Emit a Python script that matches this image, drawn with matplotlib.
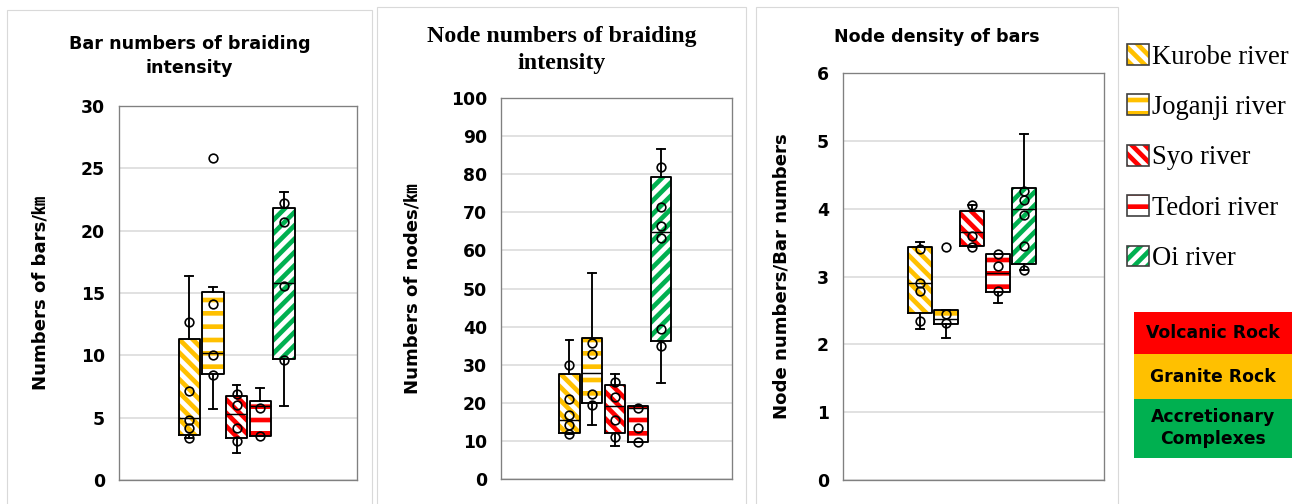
import numpy as np
import matplotlib
matplotlib.use('Agg')
import matplotlib.pyplot as plt
from matplotlib.patches import Patch, Rectangle
from matplotlib.legend_handler import HandlerTuple

# River names, colours and stripe patterns.
rivers = ['Kurobe river', 'Joganji river', 'Syo river', 'Tedori river', 'Oi river']
river_colors = ['#FFC000', '#FFC000', '#FF0000', '#FF0000', '#00B050']
river_hatches = ['\\\\', '-', '\\\\', '-', '//']

# Panel 1: bar numbers per km.
bars_q1 = [3.6, 8.5, 3.4, 3.5, 9.7]
bars_med = [5.0, 10.2, 5.3, 5.9, 15.8]
bars_q3 = [11.3, 15.1, 6.7, 6.35, 21.8]
bars_lo = [3.4, 5.7, 2.2, 3.5, 5.9]
bars_hi = [16.4, 15.45, 7.6, 7.35, 23.1]
bars_pts = [[12.7, 7.1, 4.8, 4.2, 3.4], [25.8, 14.1, 10.0, 8.4],
            [6.9, 6.0, 4.2, 3.15], [5.75, 3.5], [22.2, 20.7, 15.6, 9.6]]

# Panel 2: node numbers per km.
nodes_q1 = [12.0, 20.0, 12.0, 9.6, 36.1]
nodes_med = [15.5, 27.9, 19.2, 18.6, 64.8]
nodes_q3 = [27.6, 37.0, 24.7, 19.2, 79.2]
nodes_lo = [11.8, 14.2, 8.7, 9.6, 25.1]
nodes_hi = [36.5, 54.0, 27.6, 19.2, 86.6]
nodes_pts = [[29.8, 21.1, 16.9, 14.3, 11.8], [35.8, 32.7, 22.3, 19.4],
             [25.5, 21.5, 15.5, 10.95], [18.6, 13.3, 9.7],
             [81.9, 71.5, 66.5, 63.3, 39.3, 34.9]]

# Panel 3: node density of bars.
dens_q1 = [2.46, 2.30, 3.45, 2.77, 3.18]
dens_med = [2.90, 2.38, 3.65, 3.05, 4.00]
dens_q3 = [3.43, 2.51, 3.97, 3.33, 4.31]
dens_lo = [2.23, 2.09, 3.44, 2.61, 3.10]
dens_hi = [3.51, 2.51, 4.06, 3.33, 5.10]
dens_pts = [[3.40, 2.91, 2.79, 2.34], [3.43, 2.45, 2.31], [4.06, 3.60, 3.44],
            [3.33, 3.16, 2.78], [4.26, 4.13, 3.90, 3.45, 3.10]]

# Rock type legend.
rock_names = ['Volcanic Rock', 'Granite Rock', 'Accretionary\nComplexes']
rock_colors = ['#FF0000', '#FFC000', '#00B050']

W, H, DPI = 1306, 504, 80
plt.rcParams['font.family'] = ['DejaVu Sans', 'Noto Sans CJK JP']
plt.rcParams['font.weight'] = 'bold'
plt.rcParams['hatch.linewidth'] = 4.2

fig = plt.figure(figsize=(W / DPI, H / DPI), dpi=DPI)


def fx(px):
    return px / W


def fy(px):
    return 1 - px / H


def draw_panel(rect, q1, med, q3, lo, hi, pts, ymax, ystep, ylabel, label_x):
    """
    Draw one box plot panel in the rectangle given in pixels
    (left, top, right, bottom).
    """
    left, top, right, bottom = rect
    ax = fig.add_axes([fx(left), fy(bottom), fx(right - left), (bottom - top) / H])
    pos = np.arange(1, len(rivers) + 1)

    stats = []
    for i in range(len(rivers)):
        stats.append({'med': med[i], 'q1': q1[i], 'q3': q3[i],
                      'whislo': lo[i], 'whishi': hi[i], 'fliers': []})

    # Striped fill of the boxes.
    bp = ax.bxp(stats, positions=pos, widths=0.9, patch_artist=True,
                showcaps=False, showfliers=False,
                whiskerprops={'linewidth': 0}, medianprops={'linewidth': 0},
                manage_ticks=False)
    for box, c, h in zip(bp['boxes'], river_colors, river_hatches):
        box.set_facecolor('white')
        box.set_edgecolor(c)
        box.set_hatch(h)
        box.set_linewidth(0)
        box.set_zorder(2)

    # Black outlines, whiskers and medians.
    line = {'color': 'black', 'linewidth': 1.7}
    ax.bxp(stats, positions=pos, widths=0.9, showfliers=False,
           boxprops=line, whiskerprops=line, capprops=line,
           medianprops={'color': 'black', 'linewidth': 1.3},
           capwidths=0.32, manage_ticks=False, zorder=3)

    # Data points.
    for p, vals in zip(pos, pts):
        ax.plot(np.full(len(vals), p), vals, 'o', mfc='none', mec='black',
                ms=7.8, mew=1.5, zorder=4)

    ax.set_xlim(-1.97, 8.09)
    ax.set_ylim(0, ymax)
    ax.set_yticks(np.arange(0, ymax + ystep / 2, ystep))
    ax.set_xticks([])
    ax.tick_params(axis='y', length=0, pad=12.6, labelsize=15.5)
    ax.yaxis.grid(True, color='#d9d9d9', linewidth=1.4)
    ax.set_axisbelow(True)
    for s in ax.spines.values():
        s.set_color('#808080')
        s.set_linewidth(1.2)
    ax.set_ylabel(ylabel, fontsize=16.3, fontweight='bold')
    ax.yaxis.set_label_coords(label_x, 0.5)
    return ax


# Outer frames of the three panels.
for x0, x1, y0 in [(7, 372, 10), (377, 746, 7), (756, 1118, 7)]:
    fig.patches.append(Rectangle((fx(x0), -0.1), fx(x1 - x0), fy(y0) + 0.1,
                                 transform=fig.transFigure, fill=False,
                                 edgecolor='#d9d9d9', linewidth=1.0))

draw_panel((119, 106, 357, 480), bars_q1, bars_med, bars_q3, bars_lo, bars_hi,
           bars_pts, 30, 5, 'Numbers of bars/㎞', -0.29)
draw_panel((501, 98, 732, 479), nodes_q1, nodes_med, nodes_q3, nodes_lo, nodes_hi,
           nodes_pts, 100, 10, 'Numbers of nodes/㎞', -0.342)
draw_panel((843, 73, 1104, 480), dens_q1, dens_med, dens_q3, dens_lo, dens_hi,
           dens_pts, 6, 1, 'Node numbers/Bar numbers', -0.2)

# Titles.
fig.text(fx(189.5), fy(56), 'Bar numbers of braiding\nintensity', ha='center',
         va='center', fontsize=15.8, fontweight='bold', linespacing=1.4)
fig.text(fx(561.5), fy(50), 'Node numbers of braiding\nintensity', ha='center',
         va='center', fontsize=21.5, fontweight='bold', family='Liberation Serif',
         linespacing=1.42)
fig.text(fx(937), fy(37), 'Node density of bars', ha='center', va='center',
         fontsize=15.8, fontweight='bold')

# River legend.
handles = []
for c, h in zip(river_colors, river_hatches):
    handles.append((Patch(facecolor='white', edgecolor=c, hatch=h, linewidth=0),
                    Patch(facecolor='none', edgecolor='#404040', linewidth=1.5)))
fig.legend(handles, rivers, loc='upper left', bbox_to_anchor=(fx(1127), fy(44)),
           frameon=False, handler_map={tuple: HandlerTuple(ndivide=1, pad=0)},
           prop={'family': 'Liberation Serif', 'size': 24, 'weight': 'normal'},
           handlelength=0.82, handleheight=0.82, handletextpad=0.1,
           labelspacing=0.93, borderpad=0, borderaxespad=0)

# Rock type legend.
ax_rock = fig.add_axes([fx(1134), fy(458), fx(158), 146 / H])
sizes = np.array([1.0, 1.05, 1.4])
bottoms = sizes.sum() - np.cumsum(sizes)
ax_rock.bar(0, sizes, bottom=bottoms, width=1, color=rock_colors)
for name, b, s in zip(rock_names, bottoms, sizes):
    ax_rock.text(0, b + s / 2, name, ha='center', va='center', fontsize=15.5,
                 fontweight='bold', linespacing=1.3)
ax_rock.set_xlim(-0.5, 0.5)
ax_rock.set_ylim(0, sizes.sum())
ax_rock.axis('off')

fig.savefig('out.png', dpi=DPI)
